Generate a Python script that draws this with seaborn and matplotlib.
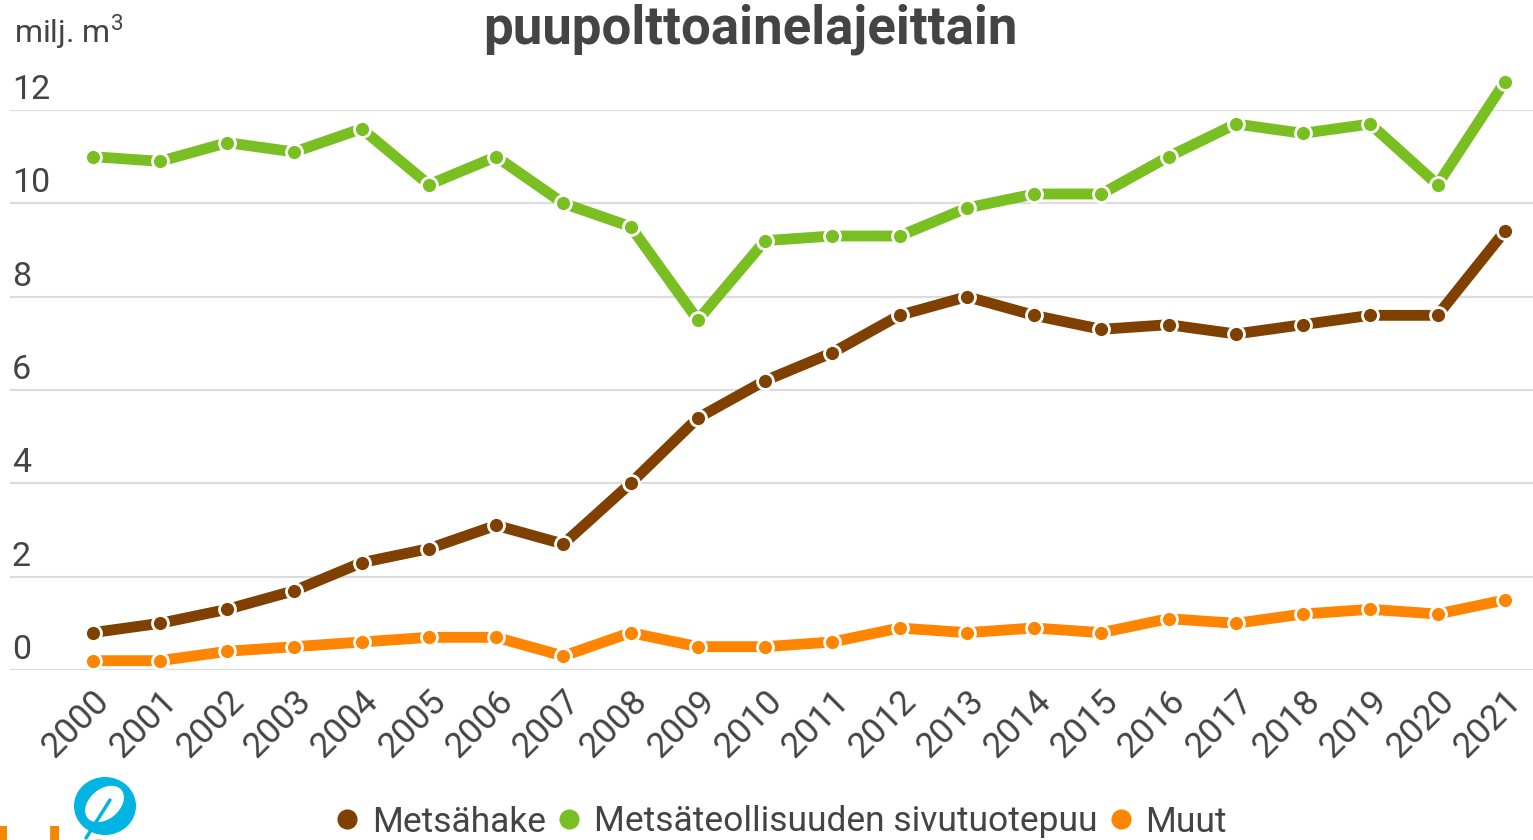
import matplotlib
matplotlib.use("Agg")
import matplotlib.pyplot as plt
import matplotlib.transforms as mtransforms
from matplotlib.lines import Line2D
from matplotlib.patches import Ellipse
import seaborn as sns
import pandas as pd

years = list(range(2000, 2022))
metsahake = [0.8, 1.0, 1.3, 1.7, 2.3, 2.6, 3.1, 2.7, 4.0, 5.4, 6.2, 6.8,
             7.6, 8.0, 7.6, 7.3, 7.4, 7.2, 7.4, 7.6, 7.6, 9.4]
sivutuotepuu = [11.0, 10.9, 11.3, 11.1, 11.6, 10.4, 11.0, 10.0, 9.5, 7.5, 9.2, 9.3,
                9.3, 9.9, 10.2, 10.2, 11.0, 11.7, 11.5, 11.7, 10.4, 12.6]
muut = [0.2, 0.2, 0.4, 0.5, 0.6, 0.7, 0.7, 0.3, 0.8, 0.5, 0.5, 0.6,
        0.9, 0.8, 0.9, 0.8, 1.1, 1.0, 1.2, 1.3, 1.2, 1.5]
series_names = ["Metsähake", "Metsäteollisuuden sivutuotepuu", "Muut"]
colors = ["#7f4000", "#7abf22", "#ff8400"]
yticks = [0, 2, 4, 6, 8, 10, 12]
title = "puupolttoainelajeittain"
unit_label = "milj. m$^3$"

df = pd.DataFrame({
    "year": years * 3,
    "value": metsahake + sivutuotepuu + muut,
    "series": [series_names[0]] * len(years) + [series_names[1]] * len(years) + [series_names[2]] * len(years),
})

sns.set_theme(style="white")
plt.rcParams["font.family"] = ["Roboto", "DejaVu Sans"]
plt.rcParams["mathtext.fontset"] = "custom"
plt.rcParams["mathtext.rm"] = "Roboto"
text_color = "#444444"

fig = plt.figure(figsize=(15.33, 8.4), dpi=100)
ax = fig.add_axes([10 / 1533, 170 / 840, 1523 / 1533, 560 / 840])

sns.lineplot(data=df, x="year", y="value", hue="series", palette=colors,
             hue_order=series_names, marker="o", linewidth=7.8, markersize=11.5,
             markeredgecolor="white", markeredgewidth=2, legend=False, ax=ax)
for ln in ax.lines:
    ln.set_clip_on(False)
    ln.set_solid_joinstyle("round")

ax.set_xlim(1998.77, 2021.42)
ax.set_ylim(0, 12)
ax.set_yticks(yticks)
ax.set_yticklabels([])
ax.tick_params(axis="y", length=0)
for s in ax.spines.values():
    s.set_visible(False)
ax.grid(axis="y", color="#dcdcdc", linewidth=1.6)
ax.grid(axis="x", visible=False)
ax.set_axisbelow(True)
ax.set_xlabel("")
ax.set_ylabel("")

# y tick labels drawn above gridlines
ytrans = mtransforms.blended_transform_factory(ax.transAxes, ax.transData)
for v in yticks:
    ax.text(0.0012, v, str(v),
            transform=ytrans + mtransforms.ScaledTranslation(0, 3 / 72, fig.dpi_scale_trans),
            ha="left", va="bottom", fontsize=24.5, color=text_color)

ax.set_xticks(years)
ax.set_xticklabels([str(y) for y in years], rotation=45, ha="right", va="top",
                   rotation_mode="anchor", fontsize=25.5, color=text_color)
ax.tick_params(axis="x", length=0, pad=10)

fig.text(750 / 1533, 1 - 29 / 840, title, ha="center", va="center",
         fontsize=38, fontweight="bold", color=text_color)
fig.text(14 / 1533, 1 - 32 / 840, unit_label, ha="left", va="center",
         fontsize=23, color=text_color)

handles = [Line2D([], [], linestyle="none", marker="o", markersize=13.5,
                  markerfacecolor=c, markeredgecolor=c) for c in colors]
fig.legend(handles, series_names, loc="center", bbox_to_anchor=(781 / 1533, 1 - 822 / 840),
           ncol=3, frameon=False, fontsize=25.5, handlelength=0.7, handletextpad=0.35,
           columnspacing=0.3, labelcolor=text_color, borderaxespad=0)

# logo fragment bottom-left (pixel-based placement in inches)
inch = fig.dpi_scale_trans
fig.patches.append(Ellipse((1.05, (840 - 806) / 100), 0.62, 0.58, transform=inch,
                           facecolor="#00b5e2", edgecolor="none", figure=fig))
fig.patches.append(Ellipse((1.045, (840 - 804) / 100), 0.44, 0.30, angle=40, transform=inch,
                           facecolor="white", edgecolor="none", figure=fig))
fig.lines.append(Line2D([1.10, 0.86], [(840 - 800) / 100, (840 - 838) / 100], transform=inch,
                        color="#00b5e2", linewidth=2.5, figure=fig))
fig.text(-0.004, 1 - 826 / 840, "luke", ha="left", va="top", fontsize=46,
         fontweight="bold", color="#f18a00")

fig.savefig("out.png", dpi=100)
